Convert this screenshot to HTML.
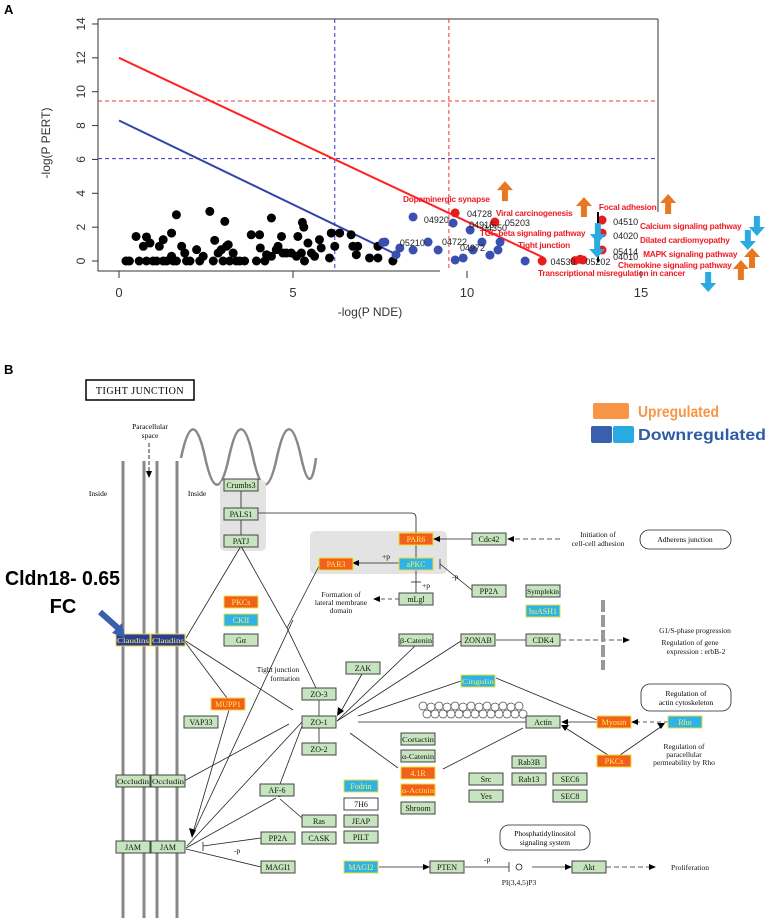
<!DOCTYPE html>
<html><head><meta charset="utf-8">
<style>
html,body{margin:0;padding:0;background:#fff;}
svg{display:block;}
.ser{font-family:"Liberation Serif",serif;}
.san{font-family:"Liberation Sans",sans-serif;}
</style></head>
<body>
<svg id="fig" width="770" height="920" viewBox="0 0 770 920" xmlns="http://www.w3.org/2000/svg">
<text x="4" y="14" class="san" font-size="13" font-weight="bold">A</text>
<g id="chartA"></g>
<text x="4" y="374" class="san" font-size="13" font-weight="bold">B</text>
<g id="pathway">
  <rect x="86" y="380" width="108" height="20" fill="#fff" stroke="#000" stroke-width="1.5"/>
  <text x="140" y="394" text-anchor="middle" class="ser" font-size="10" letter-spacing="0.5">TIGHT JUNCTION</text>
  <text x="150" y="429" text-anchor="middle" class="ser" font-size="7.5">Paracellular</text>
  <text x="150" y="438" text-anchor="middle" class="ser" font-size="7.5">space</text>
  <line x1="149" y1="443" x2="149" y2="472" stroke="#000" stroke-width="0.8" stroke-dasharray="4,2"/>
  <polygon points="146,471 152,471 149,478" fill="#000"/>
  <g stroke="#888" stroke-width="3">
    <line x1="123" y1="461" x2="123" y2="918"/><line x1="144" y1="461" x2="144" y2="918"/>
    <line x1="157" y1="461" x2="157" y2="918"/><line x1="177" y1="461" x2="177" y2="918"/>
  </g>
  <path d="M181,458 C189,420 197,420 205,457 C213,494 221,494 229,457 C237,420 245,420 253,457 C261,494 269,494 277,457 C285,420 293,420 301,457 C307,484 312,488 316,458" fill="none" stroke="#888" stroke-width="2.5"/>
  <text x="98" y="496" text-anchor="middle" class="ser" font-size="7.5">Inside</text>
  <text x="197" y="496" text-anchor="middle" class="ser" font-size="7.5">Inside</text>
  <rect x="220" y="480" width="46" height="71" rx="5" fill="#e3e3e3"/>
  <rect x="310" y="531" width="137" height="43" rx="5" fill="#e3e3e3"/>
  <g stroke="#222" stroke-width="0.8" fill="none">
    <line x1="241" y1="489" x2="241" y2="535"/>
    <path d="M258,513 H411 Q416,513 416,518 V533"/>
    <polyline points="241,546 287,628 316,688"/>
    <line x1="287" y1="628" x2="319" y2="566"/>
    <line x1="241" y1="546" x2="186" y2="638"/>
    <line x1="293" y1="620" x2="192" y2="836"/>
    <line x1="184" y1="640" x2="293" y2="710"/>
    <line x1="185" y1="642" x2="227" y2="698"/>
    <line x1="229" y1="710" x2="192" y2="836"/>
    <line x1="184" y1="781" x2="289" y2="724"/>
    <line x1="302" y1="722" x2="187" y2="846"/>
    <line x1="280" y1="784" x2="302" y2="726"/>
    <line x1="186" y1="848" x2="276" y2="798"/>
    <line x1="302" y1="818" x2="280" y2="799"/>
    <line x1="261" y1="838" x2="203" y2="846"/><line x1="203" y1="842" x2="203" y2="851"/>
    <line x1="186" y1="849" x2="261" y2="867"/>
    <line x1="319" y1="700" x2="319" y2="716"/><line x1="319" y1="728" x2="319" y2="743"/>
    <line x1="362" y1="674" x2="340" y2="713"/>
    <line x1="337" y1="721" x2="415" y2="646"/>
    <line x1="337" y1="721" x2="461" y2="641"/>
    <line x1="358" y1="716" x2="461" y2="681"/>
    <line x1="358" y1="722" x2="526" y2="722"/>
    <line x1="350" y1="733" x2="398" y2="768"/>
    <line x1="443" y1="769" x2="523" y2="728"/>
    <line x1="496" y1="640" x2="526" y2="640"/>
    <line x1="561" y1="640" x2="625" y2="640" stroke-dasharray="5,3"/>
    <line x1="496" y1="678" x2="597" y2="720"/>
    <line x1="597" y1="722" x2="565" y2="722"/>
    <line x1="668" y1="722" x2="636" y2="722" stroke-dasharray="4,3"/>
    <line x1="608" y1="755" x2="564" y2="727"/>
    <line x1="620" y1="755" x2="662" y2="726"/>
    <line x1="472" y1="539" x2="438" y2="539"/>
    <line x1="560" y1="539" x2="511" y2="539" stroke-dasharray="5,3"/>
    <line x1="416" y1="543" x2="416" y2="558"/>
    <line x1="399" y1="563" x2="356" y2="563"/>
    <line x1="416" y1="569" x2="416" y2="593"/><line x1="411" y1="582" x2="421" y2="582"/>
    <line x1="472" y1="590" x2="440" y2="564"/><line x1="440" y1="559" x2="440" y2="569"/>
    <line x1="399" y1="599" x2="377" y2="599" stroke-dasharray="4,3"/>
    <line x1="379" y1="867" x2="426" y2="867"/>
    <line x1="465" y1="867" x2="509" y2="867"/><line x1="509" y1="862" x2="509" y2="872"/>
    <line x1="532" y1="867" x2="568" y2="867"/>
    <line x1="606" y1="867" x2="651" y2="867" stroke-dasharray="5,3"/>
  </g>
  <g fill="#000">
    <polygon points="192,838 189,828 196,830"/>
    <polygon points="337,716 338,707 344,711"/>
    <polygon points="278,797 282,789 286,796"/>
    <polygon points="561,722 568,719 568,725"/>
    <polygon points="631,722 638,719 638,725"/>
    <polygon points="561,725 569,725 565,731"/>
    <polygon points="665,723 657,723 661,729"/>
    <polygon points="433,539 440,536 440,542"/>
    <polygon points="507,539 514,536 514,542"/>
    <polygon points="352,563 359,560 359,566"/>
    <polygon points="373,599 380,596 380,602"/>
    <polygon points="430,867 423,864 423,870"/>
    <polygon points="572,867 565,864 565,870"/>
    <polygon points="656,867 649,864 649,870"/>
    <polygon points="630,640 623,637 623,643"/>
  </g>
  <g class="ser" font-size="7.5">
    <text x="382" y="559">+p</text><text x="422" y="588">+p</text><text x="452" y="579">-p</text>
    <text x="234" y="853">-p</text><text x="484" y="862">-p</text>
  </g>
  <g class="ser" font-size="7.5" text-anchor="middle" fill="#111">
    <text x="598" y="537">Initiation of</text><text x="598" y="546">cell-cell adhesion</text>
    <text x="341" y="597">Formation of</text><text x="341" y="605">lateral membrane</text><text x="341" y="613">domain</text>
    <text x="278" y="672">Tight junction</text><text x="285" y="681">formation</text>
    <text x="695" y="633">G1/S-phase progression</text><text x="690" y="645">Regulation of gene</text><text x="696" y="654">expression : erbB-2</text>
    <text x="684" y="749">Regulation of</text><text x="684" y="757">paracellular</text><text x="684" y="765">permeability by Rho</text>
    <text x="519" y="885">PI(3,4,5)P3</text>
    <text x="690" y="870">Proliferation</text>
  </g>
  <rect x="640" y="530" width="91" height="19" rx="9" fill="#fff" stroke="#222" stroke-width="0.8"/>
  <text x="685" y="542" text-anchor="middle" class="ser" font-size="7.5">Adherens junction</text>
  <rect x="641" y="684" width="90" height="27" rx="9" fill="#fff" stroke="#222" stroke-width="0.8"/>
  <text x="686" y="696" text-anchor="middle" class="ser" font-size="7.5">Regulation of</text>
  <text x="686" y="705" text-anchor="middle" class="ser" font-size="7.5">actin cytoskeleton</text>
  <rect x="500" y="825" width="90" height="25" rx="9" fill="#fff" stroke="#222" stroke-width="0.8"/>
  <text x="545" y="836" text-anchor="middle" class="ser" font-size="7.5">Phosphatidylinositol</text>
  <text x="545" y="845" text-anchor="middle" class="ser" font-size="7.5">signaling system</text>
  <circle cx="519" cy="867" r="3" fill="#fff" stroke="#222" stroke-width="0.8"/>
  <g stroke="#999" stroke-width="4">
    <line x1="603" y1="600" x2="603" y2="612"/><line x1="603" y1="615" x2="603" y2="627"/>
    <line x1="603" y1="630" x2="603" y2="642"/><line x1="603" y1="645" x2="603" y2="657"/><line x1="603" y1="660" x2="603" y2="670"/>
  </g>
  <g id="actinChain" fill="#fff" stroke="#444" stroke-width="0.7"></g>
  <g id="nodes"></g>
  <rect x="593" y="403" width="36" height="16" rx="2" fill="#f79646"/>
  <text x="638" y="417" class="san" font-size="16" font-weight="bold" fill="#f79646" textLength="81" lengthAdjust="spacingAndGlyphs">Upregulated</text>
  <rect x="591" y="426" width="21" height="17" rx="2" fill="#3a5fad"/>
  <rect x="613" y="426" width="21" height="17" rx="2" fill="#29abe2"/>
  <text x="638" y="440" class="san" font-size="16" font-weight="bold" fill="#2e5ca8" textLength="128" lengthAdjust="spacingAndGlyphs">Downregulated</text>
  <text x="5" y="585" class="san" font-size="20" font-weight="bold" textLength="115" lengthAdjust="spacingAndGlyphs">Cldn18- 0.65</text>
  <text x="63" y="613" text-anchor="middle" class="san" font-size="20" font-weight="bold">FC</text>
  <g>
    <line x1="100" y1="612" x2="118" y2="628" stroke="#3a5fad" stroke-width="6"/>
    <polygon points="112,633 125,638 122,623" fill="#3a5fad"/>
  </g>
</g>
<script>
// ===== Chart A data =====
const xTicks = [0, 5, 10, 15];
const yTicks = [0, 2, 4, 6, 8, 10, 12, 14];
const blackX = [0.20,0.30,0.49,0.58,0.70,0.79,0.79,0.89,0.98,1.08,1.16,1.27,1.27,1.37,1.51,1.51,1.56,1.65,1.65,1.80,1.89,1.94,2.04,2.23,2.32,2.42,2.61,2.71,2.75,2.85,2.94,2.99,3.04,3.09,3.14,3.18,3.28,3.37,3.47,3.61,3.80,3.95,4.04,4.06,4.19,4.24,4.38,4.38,4.52,4.57,4.67,4.71,4.81,4.95,5.10,5.14,5.24,5.27,5.31,5.33,5.43,5.53,5.62,5.76,5.81,6.05,6.10,6.20,6.34,6.67,6.72,6.82,6.86,7.20,7.44,7.44,7.87];
const blackY = [0,0,1.45,0,0.87,1.42,0,1.06,0,0,0.87,1.26,0,0,1.65,0.28,0,2.73,0,0.87,0.47,0,0,0.67,0,0.28,2.93,0,1.22,0.47,0.67,0,2.34,0.87,0.96,0,0.47,0,0,0,1.55,0,1.55,0.77,0,0.37,2.54,0.28,0.67,0.87,1.45,0.47,0.47,0.47,0.28,1.45,0.47,2.28,2.0,0,1.06,0.47,0.28,1.26,0.77,0.18,1.65,0.87,1.65,1.55,0.87,0.37,0.87,0.18,0.18,0.87,0];
const blueX = [7.58,7.96,8.45,7.64,8.07,8.45,8.88,9.17,9.60,9.66,9.89,10.17,10.43,10.66,10.89,10.95,11.67,10.09];
const blueY = [1.10,0.37,2.60,1.12,0.77,0.65,1.12,0.65,2.24,0.06,0.18,0.65,1.12,0.35,0.65,1.12,0.0,1.83];
const redX = [9.66,10.80,12.16,13.25,13.88,13.88,13.88,13.33,13.10];
const redY = [2.84,2.30,0.0,0.10,2.42,1.65,0.65,0.06,0.02];
const redLineX = [0, 12.2];
const redLineY = [12, 0.2];
const blueLineX = [0, 7.96];
const blueLineY = [8.3, 0.4];
const redThreshX = [9.48];
const redThreshY = [9.45];
const blueThreshX = [6.2];
const blueThreshY = [6.05];
const idLabels = ["04728","04920","04916","04350","05203","04510","04020","05414","04010","05210","04722","04972","04530","05202"];
const idX = [10.0,8.76,10.06,10.43,11.09,14.2,14.2,14.2,14.2,8.07,9.28,9.8,12.4,13.4];
const idY = [2.6,2.24,1.95,1.77,2.07,2.13,1.3,0.35,0.06,0.89,0.95,0.59,-0.24,-0.24];
const pathLabels = ["Dopaminergic synapse","Viral carcinogenesis","TGF-beta signaling pathway","Focal adhesion","Calcium signaling pathway","Dilated cardiomyopathy","Tight junction","MAPK signaling pathway","Chemokine signaling pathway","Transcriptional misregulation in cancer"];
const pathX = [8.16,10.83,10.37,13.79,14.97,14.97,11.47,15.06,14.34,12.04];
const pathY = [3.48,2.66,1.48,3.01,1.89,1.06,0.77,0.24,-0.41,-0.89];
const upArrowX = [11.09,13.36,15.78,18.19,17.87];
const upArrowY = [4.13,3.19,3.37,0.18,-0.53];
const downArrowX = [13.76,13.74,18.33,18.07,16.93];
const downArrowY = [1.65,0.77,2.07,1.24,-1.24];

const NS = "http://www.w3.org/2000/svg";
const X0 = 119, XS = 34.8, Y0 = 261, YS = 16.93;
function sx(v){ return X0 + v*XS; }
function sy(v){ return Y0 - v*YS; }
function mk(tag, parent, attrs){
  const e = document.createElementNS(NS, tag);
  for (const k in attrs) e.setAttribute(k, attrs[k]);
  parent.appendChild(e);
  return e;
}
const A = document.getElementById("chartA");
let el;
el = mk("path", A, {d:"M98,19 H658 M98,19 V271 H440 M658,19 V212", fill:"none", stroke:"#333", "stroke-width":1});


xTicks.forEach(function(t){
  el = mk("line", A, {x1:sx(t), y1:271, x2:sx(t), y2:278, stroke:"#333"});
  
  
  el = mk("text", A, {x:sx(t), y:297, "text-anchor":"middle", "font-size":13, "font-family":"Liberation Sans, sans-serif", fill:"#333"});
  el.textContent = t;
  
  
});
yTicks.forEach(function(t){
  el = mk("line", A, {x1:92, y1:sy(t), x2:98, y2:sy(t), stroke:"#333"});
  
  
  el = mk("text", A, {x:0, y:0, transform:"translate(85,"+sy(t)+") rotate(-90)", "text-anchor":"middle", "font-size":12, "font-family":"Liberation Sans, sans-serif", fill:"#333"});
  el.textContent = t;
  
  
});
el = mk("text", A, {x:370, y:316, "text-anchor":"middle", "font-size":12, "font-family":"Liberation Sans, sans-serif", fill:"#333"});
el.textContent = "-log(P NDE)";


el = mk("text", A, {x:0, y:0, transform:"translate(50,143) rotate(-90)", "text-anchor":"middle", "font-size":12, "font-family":"Liberation Sans, sans-serif", fill:"#333"});
el.textContent = "-log(P PERT)";


el = mk("line", A, {x1:98, y1:sy(redThreshY[0]), x2:658, y2:sy(redThreshY[0]), stroke:"#e33", "stroke-dasharray":"4,3", "stroke-width":1});


el = mk("line", A, {x1:98, y1:sy(blueThreshY[0]), x2:658, y2:sy(blueThreshY[0]), stroke:"#33c", "stroke-dasharray":"4,3", "stroke-width":1});


el = mk("line", A, {x1:sx(blueThreshX[0]), y1:19, x2:sx(blueThreshX[0]), y2:271, stroke:"#33c", "stroke-dasharray":"4,3", "stroke-width":1});


el = mk("line", A, {x1:sx(redThreshX[0]), y1:19, x2:sx(redThreshX[0]), y2:271, stroke:"#e33", "stroke-dasharray":"4,3", "stroke-width":1});


el = mk("line", A, {x1:sx(redLineX[0]), y1:sy(redLineY[0]), x2:sx(redLineX[1]), y2:sy(redLineY[1]), stroke:"#f22", "stroke-width":2});


el = mk("line", A, {x1:sx(blueLineX[0]), y1:sy(blueLineY[0]), x2:sx(blueLineX[1]), y2:sy(blueLineY[1]), stroke:"#3344aa", "stroke-width":2});


blackX.forEach(function(v,i){
  el = mk("circle", A, {cx:sx(v), cy:sy(blackY[i]), r:4.5, fill:"#000"});
  
  
});
blueX.forEach(function(v,i){
  el = mk("circle", A, {cx:sx(v), cy:sy(blueY[i]), r:4.5, fill:"#3a4fb0"});
  
  
});
redX.forEach(function(v,i){
  el = mk("circle", A, {cx:sx(v), cy:sy(redY[i]), r:4.5, fill:"#e81c1c"});
  
  
});
el = mk("line", A, {x1:598, y1:212, x2:598, y2:262, stroke:"#000", "stroke-width":2});


idLabels.forEach(function(s,i){
  el = mk("text", A, {x:sx(idX[i]), y:sy(idY[i]), "font-size":9, "font-family":"Liberation Sans, sans-serif", fill:"#222"});
  el.textContent = s;
  
  
});
pathLabels.forEach(function(s,i){
  el = mk("text", A, {x:sx(pathX[i]), y:sy(pathY[i]), "font-size":8.3, "font-weight":"bold", "letter-spacing":-0.2, "font-family":"Liberation Sans, sans-serif", fill:"#ee1c24"});
  el.textContent = s;
  
  
});
function arrowPts(cx, cy, up){
  const d = up ? -1 : 1;
  const tip = cy + d*10, base = cy + d*1, tail = cy - d*10;
  return [cx+","+tip, (cx-8)+","+base, (cx-3)+","+base, (cx-3)+","+tail, (cx+3)+","+tail, (cx+3)+","+base, (cx+8)+","+base].join(" ");
}
upArrowX.forEach(function(v,i){
  el = mk("polygon", A, {points:arrowPts(sx(v), sy(upArrowY[i]), true), fill:"#e87722"});
  
  
});
downArrowX.forEach(function(v,i){
  el = mk("polygon", A, {points:arrowPts(sx(v), sy(downArrowY[i]), false), fill:"#29abe2"});
  
  
});

// ===== Pathway nodes =====
const nodeLabels = ["Crumbs3","PALS1","PATJ","PAR3","PAR6","aPKC","Cdc42","PP2A","Symplekin","huASH1","mLgl","PKCs","CKII","Gα","Claudins","Claudins","ZAK","ZO-3","ZO-1","ZO-2","MUPP1","VAP33","Occludin","Occludin","AF-6","Fodrin","7H6","JEAP","PILT","Ras","CASK","PP2A","MAGI1","JAM","JAM","MAGI2","β-Catenin","ZONAB","CDK4","Cingulin","Actin","Myosin","Rho","Cortactin","α-Catenin","4.1R","α-Actinin","Shroom","Rab3B","Rab13","Src","Yes","SEC6","SEC8","PKCs","PTEN","Akt"];
const nodeX = [224,224,224,319,399,399,472,472,526,526,399,224,224,224,116,151,346,302,302,302,211,184,116,151,260,344,344,344,344,302,302,261,261,116,151,344,399,461,526,461,526,597,668,401,401,401,401,401,512,512,469,469,553,553,597,430,572];
const nodeY = [479,508,535,558,533,558,533,585,585,605,593,596,614,634,634,634,662,688,716,743,698,716,775,775,784,780,798,815,831,815,832,832,861,841,841,861,634,634,634,675,716,716,716,733,750,767,784,802,756,773,773,790,773,790,755,861,861];
const nodeType = ["g","g","g","o","o","c","g","g","g","c","g","o","c","g","d","d","g","g","g","g","o","g","g","g","g","c","w","g","g","g","g","g","g","g","g","c","g","g","g","c","g","o","c","g","g","o","o","g","g","g","g","g","g","g","o","g","g"];
const NODE_FILL = {g:"#c6e5bf", o:"#f2601e", c:"#2bb3ea", d:"#2b3d96", w:"#ffffff"};
const NODE_TEXT = {g:"#111", o:"#ffee55", c:"#ffee55", d:"#ffee55", w:"#111"};
const NODE_STROKE = {g:"#444", o:"#eedd33", c:"#eedd33", d:"#eedd33", w:"#444"};
const N = document.getElementById("nodes");
nodeLabels.forEach(function(s,i){
  const t = nodeType[i];
  el = mk("rect", N, {x:nodeX[i], y:nodeY[i], width:34, height:12, fill:NODE_FILL[t], stroke:NODE_STROKE[t], "stroke-width":1});
  
  
  el = mk("text", N, {x:nodeX[i]+17, y:nodeY[i]+9, "text-anchor":"middle", "font-size":(s.length>7?7:8), "font-family":"Liberation Serif, serif", fill:NODE_TEXT[t]});
  if (s.length>7) { el.setAttribute("textLength", 32); el.setAttribute("lengthAdjust", "spacingAndGlyphs"); }
  el.textContent = s;
  
  
});
const C = document.getElementById("actinChain");
for (let k=0;k<13;k++){
  el = mk("circle", C, {cx:423+k*8, cy:706+(k%2)*1, r:4});
  
  
  el = mk("circle", C, {cx:427+k*8, cy:714, r:4});
  
  
}
</script>
</svg>
</body></html>
